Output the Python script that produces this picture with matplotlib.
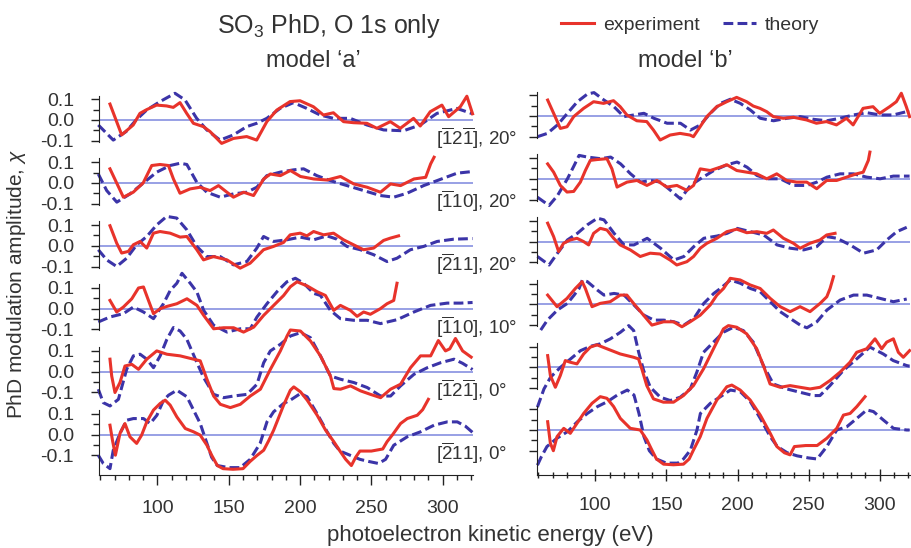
import matplotlib

matplotlib.use("Agg")
import matplotlib.pyplot as plt
from matplotlib.ticker import FixedLocator, FixedFormatter, NullFormatter

plt.rcParams["font.family"] = ["Liberation Sans", "DejaVu Sans"]
plt.rcParams["mathtext.fontset"] = "custom"
plt.rcParams["mathtext.rm"] = "Liberation Sans"
plt.rcParams["mathtext.it"] = "Liberation Sans:italic"
plt.rcParams["mathtext.bf"] = "Liberation Sans:bold"
plt.rcParams["axes.unicode_minus"] = False

# ---- model 'a' -------------------------------------------------------------
# [-1 2 -1], 20 deg
A1_EXP_E = [66.7, 74.9, 83, 87.7, 92.4, 99.4, 106.4, 111.1, 115.8, 120.5, 125.2, 132.2, 136.9, 145, 153.3,
            162.6, 169.6, 176.7, 183.7, 193, 200, 209.4, 216.4, 223.4, 230.5, 237.5, 246.9, 253.9, 263.3,
            270.3, 279.6, 284.3, 291.3, 299.5, 304.2, 312.4, 317, 321]
A1_EXP_CHI = [0.077, -0.072, -0.024, 0.032, 0.05, 0.072, 0.068, 0.061, 0.084, 0.032, -0.016, -0.032, -0.056,
              -0.113, -0.089, -0.08, -0.097, -0.008, 0.048, 0.089, 0.093, 0.064, 0.024, 0.035, -0.008, -0.013,
              -0.016, -0.04, -0.008, -0.04, 0.008, -0.029, 0.04, 0.072, 0.016, 0.064, 0.115, 0.03]
A1_TH_E = [58.5, 69, 78, 85, 92.4, 101.8, 112.3, 119.3, 127.5, 134.6, 143.9, 153.3, 162.6, 169.6, 176.7, 186,
           195.4, 204.7, 214.1, 223.4, 235.2, 246.9, 258.6, 272.6, 284.3, 296, 310, 321]
A1_TH_CHI = [-0.024, -0.097, -0.056, 0, 0.048, 0.089, 0.129, 0.097, 0.008, -0.048, -0.097, -0.072, -0.032,
             -0.016, 0.008, 0.056, 0.084, 0.056, 0.024, 0.008, 0.008, -0.024, -0.048, -0.052, -0.024, 0.032,
             0.056, 0.03]

# [-1 1 0], 20 deg
A2_EXP_E = [66.7, 76.1, 83, 90, 96, 101.8, 107.7, 111.2, 115.8, 122.9, 129.9, 136.9, 142.8, 148.7, 153.3,
            160.4, 167.4, 174.5, 179.2, 186.2, 193.2, 200.3, 209.6, 219, 228.4, 237.7, 247.1, 256.4, 263.5,
            270.5, 279.9, 288.1, 291.6, 294]
A2_EXP_CHI = [0.068, -0.069, -0.045, 0, 0.084, 0.089, 0.084, 0.019, -0.05, -0.029, -0.021, -0.037, -0.013,
              -0.045, -0.069, -0.045, -0.061, 0.019, 0.043, 0.035, 0.06, 0.031, 0.019, 0.014, 0.031, -0.005,
              -0.021, -0.045, -0.005, -0.013, 0.019, 0.027, 0.092, 0.124]
A2_TH_E = [58.5, 64.4, 71.5, 80.8, 90.2, 99.5, 108.9, 115.9, 120.6, 127.6, 134.6, 144, 153.3, 162.7, 169.7,
           176.7, 186.1, 195.4, 202.5, 211.8, 221.2, 232.9, 244.6, 256.3, 265.7, 275, 286.7, 296.1, 310.1, 321]
A2_TH_CHI = [0.043, -0.037, -0.093, -0.053, 0, 0.052, 0.084, 0.095, 0.089, 0.003, -0.045, -0.069, -0.053,
             -0.045, -0.021, 0.035, 0.052, 0.063, 0.068, 0.035, 0.011, -0.013, -0.037, -0.061, -0.069, -0.05,
             -0.013, 0.011, 0.047, 0.055]

# [-2 1 1], 20 deg
A3_EXP_E = [66.7, 71.4, 74.9, 79.6, 83.1, 87.8, 92.5, 97.2, 101.8, 108.9, 115.9, 120.6, 127.6, 132.3, 139.3,
            148.7, 158, 165, 169.7, 174.4, 181.4, 188.4, 193.1, 200.1, 204.8, 209.5, 216.5, 223.5, 230.5,
            237.5, 244.5, 251.6, 258.6, 263.3, 269.1]
A3_EXP_CHI = [0.097, 0.013, -0.035, -0.027, 0.005, 0.021, -0.011, 0.061, 0.069, 0.061, 0.042, 0.045, -0.019,
              -0.068, -0.052, -0.068, -0.108, -0.084, -0.052, -0.019, -0.003, 0.016, 0.053, 0.061, 0.048,
              0.069, 0.053, 0.061, 0.029, 0.005, -0.019, -0.011, 0.026, 0.037, 0.048]
A3_TH_E = [58.5, 64.4, 71.4, 78.4, 85.5, 92.5, 99.5, 106.5, 113.5, 120.6, 127.6, 134.6, 144, 153.3, 162.7,
           169.7, 174.4, 181.4, 190.8, 200.1, 209.5, 218.9, 225.9, 232.9, 242.3, 251.6, 261, 268, 277.4, 286.7,
           296.1, 307.8, 321]
A3_TH_CHI = [-0.019, -0.068, -0.1, -0.06, 0.005, 0.045, 0.101, 0.142, 0.134, 0.077, -0.003, -0.052, -0.052,
             -0.092, -0.076, -0.011, 0.045, 0.021, 0.029, 0.042, 0.029, 0.048, 0.032, -0.003, -0.019, -0.043,
             -0.076, -0.06, -0.019, -0.003, 0.021, 0.032, 0.035]

# [-1 1 0], 10 deg
A4_EXP_E = [66.7, 71.4, 76.1, 82, 86.7, 90.2, 93.7, 97.2, 101.9, 106.6, 113.6, 120.7, 127.7, 132.4, 139.4,
            146.4, 153.4, 160.4, 167.5, 174.5, 181.5, 188.5, 193.2, 197.9, 205, 212, 217.8, 223.6, 228.3,
            235.3, 240, 244.6, 249.3, 256.3, 261, 265.7, 268]
A4_EXP_CHI = [0.04, -0.016, 0.008, 0.048, 0.1, 0.105, 0.04, -0.024, 0, 0.011, 0.024, 0.048, 0.016, -0.032,
              -0.097, -0.092, -0.092, -0.113, -0.089, -0.032, 0.016, 0.064, 0.106, 0.13, 0.11, 0.082, 0.064,
              -0.008, 0.016, -0.008, -0.037, -0.016, -0.027, 0, 0.024, 0.04, 0.123]
A4_TH_E = [58.5, 66.7, 76.1, 83.1, 90.2, 97.2, 104.2, 109, 113.6, 117.2, 123, 127.7, 132.4, 139.4, 148.8,
           158.1, 165.1, 169.8, 176.8, 183.8, 190.8, 196.7, 202.5, 209.6, 214.3, 221.3, 228.3, 237.7, 247.1,
           256.4, 268.1, 279.8, 291.5, 303.2, 312.6, 321]
A4_TH_CHI = [-0.064, -0.04, -0.024, 0.008, -0.016, -0.048, 0.024, 0.089, 0.123, 0.171, 0.123, 0.08, -0.008,
             -0.08, -0.113, -0.097, -0.097, -0.04, 0.024, 0.082, 0.13, 0.147, 0.123, 0.074, 0.064, -0.008,
             -0.048, -0.056, -0.056, -0.072, -0.053, -0.016, 0.016, 0.027, 0.027, 0.03]

# [-1 2 -1], 0 deg
A5_EXP_E = [66.7, 67.9, 70.2, 73.7, 77.2, 82, 86.7, 92.5, 99.5, 106.6, 115.9, 125.3, 130, 134.7, 139.4, 144.1,
            151.1, 158.1, 165.1, 172.2, 179.2, 186.2, 190.9, 193.2, 200.3, 207.3, 214.3, 221.3, 223.7, 228.4,
            235.4, 242.4, 249.4, 256.5, 263.5, 270.5, 277.5, 284.5, 291.6, 297, 302, 305, 309, 314, 320]
A5_EXP_CHI = [0.06, -0.021, -0.101, -0.053, 0.027, 0.035, 0.011, 0.06, 0.1, 0.084, 0.076, 0.06, 0.052, -0.037,
              -0.118, -0.158, -0.174, -0.158, -0.118, -0.085, 0.011, 0.1, 0.172, 0.201, 0.196, 0.148, 0.076,
              -0.021, -0.082, -0.085, -0.069, -0.093, -0.11, -0.126, -0.085, -0.061, 0.019, 0.076, 0.076, 0.15,
              0.1, 0.11, 0.16, 0.1, 0.07]
A5_TH_E = [58.5, 62, 66.7, 72.6, 78.4, 83.1, 87.8, 92.5, 97.2, 101.9, 106.6, 111.2, 115.9, 120.6, 127.7, 132.4,
           139.4, 146.4, 153.4, 162.8, 169.8, 174.5, 179.2, 186.2, 193.3, 200.3, 207.3, 214.3, 221.3, 228.4,
           237.8, 247.1, 256.5, 263.5, 270.5, 279.9, 289.3, 298.6, 308, 314, 321]
A5_TH_CHI = [-0.085, -0.15, -0.166, -0.134, 0.011, 0.076, 0.084, 0.06, 0.019, 0.076, 0.156, 0.213, 0.196,
             0.156, 0.043, -0.029, -0.11, -0.126, -0.118, -0.11, -0.061, 0.043, 0.1, 0.132, 0.172, 0.188, 0.164,
             0.076, -0.021, -0.037, -0.053, -0.077, -0.118, -0.118, -0.069, -0.013, 0.019, 0.043, 0.06, 0.04,
             0.01]

# [-2 1 1], 0 deg
A6_EXP_E = [66.7, 68.5, 70.5, 73.7, 77.2, 80.7, 85.4, 88.9, 92.5, 97.2, 101.9, 105.4, 108.9, 113.6, 119.5,
            125.3, 130, 134.7, 138, 142, 146, 153, 160, 165, 170, 174.5, 178, 181.5, 188.5, 193.2, 195.6, 200.3,
            205, 212, 217.9, 223.7, 228, 232, 236, 239, 242, 250, 258, 261, 265, 270.5, 275.2, 282.2, 286, 290]
A6_EXP_CHI = [0.045, -0.03, -0.1, 0.005, 0.053, -0.011, -0.043, -0.003, 0.061, 0.118, 0.15, 0.166, 0.142,
              0.085, 0.029, 0.013, -0.003, -0.052, -0.1, -0.15, -0.165, -0.168, -0.165, -0.13, -0.1, -0.076,
              -0.03, 0.021, 0.142, 0.214, 0.23, 0.206, 0.166, 0.093, 0.021, -0.035, -0.08, -0.12, -0.15, -0.11,
              -0.08, -0.08, -0.07, -0.035, 0.0, 0.053, 0.077, 0.093, 0.12, 0.17]
A6_TH_E = [58.5, 62, 66.7, 69, 73.7, 78.4, 83.1, 90.2, 94.9, 99.6, 104.3, 107.8, 113.6, 120.7, 125.3, 130,
           134.7, 138, 142, 150, 158, 165, 172, 176.8, 181.5, 188.5, 193.2, 200.3, 205, 212, 219, 223.7, 228,
           235, 242, 248, 255, 260, 265.7, 275.2, 284.5, 294, 303.3, 310.3, 316, 321]
A6_TH_CHI = [-0.1, -0.14, -0.165, -0.076, 0.005, 0.069, 0.077, 0.077, 0.053, 0.093, 0.166, 0.19, 0.214, 0.182,
             0.118, 0.053, -0.043, -0.11, -0.15, -0.16, -0.16, -0.12, -0.043, 0.061, 0.11, 0.15, 0.166, 0.198,
             0.182, 0.1, 0.013, -0.043, -0.08, -0.1, -0.12, -0.13, -0.14, -0.12, -0.052, -0.011, 0.013, 0.045,
             0.061, 0.061, 0.04, 0.01]

# ---- model 'b' -------------------------------------------------------------
B1_EXP_E = [66.5, 70.7, 75.4, 80.1, 84.8, 91.8, 98.8, 105.8, 112.8, 117.5, 122.2, 129.2, 136.2, 140.9, 145.6,
            152.6, 159.6, 166.6, 169, 173.7, 178.4, 185.4, 192.4, 199.4, 206.4, 211.1, 215.8, 220.5, 225.2,
            232.2, 239.2, 248.5, 255.5, 262.5, 269.6, 276.6, 281.3, 288.3, 295.3, 300, 307, 311.7, 315.2, 318.7,
            321]
B1_EXP_CHI = [0.077, 0.013, -0.06, -0.052, -0.003, 0.037, 0.069, 0.061, 0.074, 0.045, 0.005, -0.023, -0.027,
              -0.068, -0.116, -0.092, -0.084, -0.092, -0.1, -0.052, -0.003, 0.045, 0.069, 0.09, 0.069, 0.048,
              0.037, 0.021, -0.003, -0.011, -0.006, -0.019, -0.035, -0.027, -0.043, -0.011, -0.043, 0.037,
              0.045, 0.013, 0.045, 0.069, 0.11, 0.045, -0.003]
B1_TH_E = [59.3, 66.3, 73.4, 80.4, 87.4, 94.4, 99.1, 106.1, 113.1, 120.1, 127.1, 134.2, 141.2, 150.5, 159.9,
           166.9, 173.9, 180.9, 188, 195, 202, 209, 216, 225.4, 234.7, 244.1, 253.4, 262.8, 272.1, 281.5, 290.8,
           300.2, 309.5, 318.9, 321]
B1_TH_CHI = [-0.1, -0.084, -0.043, 0.013, 0.069, 0.106, 0.113, 0.077, 0.045, -0.003, 0.005, 0.013, -0.011,
             -0.035, -0.035, -0.068, -0.043, 0.013, 0.061, 0.081, 0.061, 0.029, -0.011, -0.023, -0.011, -0.003,
             -0.016, -0.023, -0.011, 0.005, 0.016, 0.005, 0.005, 0.021, 0.02]

B2_EXP_E = [66.5, 70.7, 75.4, 80.1, 84.8, 89.5, 93, 96.5, 101.2, 108.2, 111.7, 115.3, 122.3, 129.3, 136.3,
            143.3, 150.3, 157.4, 164.4, 169.1, 173.8, 180.8, 187.8, 192.5, 199.5, 206.5, 213.5, 220.6, 227.6,
            234.6, 241.6, 248.7, 255.7, 262.7, 269.7, 276.7, 283.8, 288.4, 292, 293.1]
B2_EXP_CHI = [0.072, 0.032, -0.032, -0.064, -0.061, -0.016, 0.04, 0.089, 0.093, 0.097, 0.048, -0.04, -0.016,
              -0.008, -0.032, -0.008, -0.04, -0.032, -0.056, -0.032, 0.048, 0.04, 0.056, 0.068, 0.04, 0.032,
              0.024, 0, 0.024, -0.008, -0.016, -0.016, -0.048, -0.008, -0.008, 0.008, 0.024, 0.032, 0.089, 0.129]
B2_TH_E = [59.3, 67.5, 73.4, 80.4, 85.1, 88.6, 94.4, 103.8, 110.8, 117.8, 124.8, 131.8, 138.9, 145.9, 152.9,
           159.9, 166.9, 173.9, 183.3, 192.7, 199.7, 206.7, 213.7, 220.8, 230.1, 239.5, 248.8, 255.8, 262.9,
           272.2, 281.6, 290.9, 300.3, 309.6, 321]
B2_TH_CHI = [-0.089, -0.129, -0.081, 0, 0.064, 0.113, 0.105, 0.097, 0.105, 0.072, 0.024, -0.016, -0.008,
             -0.016, -0.056, -0.097, -0.032, 0, 0.04, 0.068, 0.081, 0.056, 0.016, 0, 0, -0.032, -0.032, -0.016,
             0.008, 0.024, 0.024, 0.008, 0, 0.013, 0.013]

B3_EXP_E = [66.5, 70.7, 74.2, 77.7, 82.4, 87.1, 91.8, 95.3, 98.8, 103.5, 108.2, 112.9, 117.5, 124.6, 131.6,
            138.6, 145.6, 152.6, 157.3, 164.4, 169.1, 173.8, 178.5, 185.5, 192.5, 199.5, 206.5, 213.6, 220.6,
            225.2, 232.3, 239.3, 244, 251, 258, 262.7, 268.6]
B3_EXP_CHI = [0.089, 0.024, -0.048, -0.008, 0.008, 0.016, 0, -0.016, 0.04, 0.064, 0.056, 0.016, -0.016, -0.04,
              -0.072, -0.056, -0.06, -0.089, -0.113, -0.097, -0.072, -0.032, -0.008, 0.016, 0.048, 0.06, 0.043,
              0.048, 0.04, 0.056, 0.016, -0.008, -0.032, -0.008, 0.008, 0.032, 0.04]
B3_TH_E = [59.3, 67.5, 73.4, 80.4, 87.4, 94.4, 101.5, 106.1, 113.2, 120.2, 127.2, 136.5, 145.9, 155.3, 162.3,
           169.3, 176.3, 185.7, 192.7, 199.7, 209.1, 218.4, 227.8, 237.1, 246.5, 255.8, 262.9, 269.9, 279.2,
           288.6, 297.9, 305, 312, 319]
B3_TH_CHI = [-0.072, -0.113, -0.056, 0.008, 0.04, 0.081, 0.113, 0.105, 0.04, -0.016, -0.016, 0.016, -0.032,
             -0.089, -0.072, -0.024, 0.016, 0.027, 0.04, 0.064, 0.048, 0.032, -0.016, -0.032, -0.04, -0.024,
             0.024, 0.016, -0.016, -0.056, -0.04, 0.008, 0.048, 0.069]

B4_EXP_E = [66.5, 73.1, 80.1, 86, 90.7, 93, 97.7, 103.5, 110.5, 117.5, 122.2, 126.9, 133.9, 139.8, 148, 155,
            160.9, 166.7, 173.8, 180.8, 185.5, 190.2, 194.9, 201.9, 208.9, 215.9, 223, 230, 237, 244, 251, 258.1,
            262.8, 265.1, 267.5]
B4_EXP_CHI = [0.045, -0.011, 0.029, 0.077, 0.11, 0.077, -0.011, 0.005, 0.013, 0.045, 0.045, 0.005, -0.052,
              -0.1, -0.084, -0.084, -0.108, -0.084, -0.052, -0.003, 0.045, 0.077, 0.126, 0.118, 0.094, 0.077,
              0.029, -0.011, -0.035, -0.011, -0.035, 0.005, 0.037, 0.077, 0.134]
B4_TH_E = [61.6, 66.3, 73.4, 80.4, 85.1, 88.6, 90.9, 94.4, 101.5, 106.1, 113.2, 120.2, 127.2, 134.2, 141.2,
           148.2, 155.3, 162.3, 169.3, 176.3, 183.3, 188, 195, 202, 209, 216, 223, 230, 237.1, 244.1, 248.8,
           255.8, 262.9, 272.2, 281.6, 290.9, 300.3, 309.6, 319]
B4_TH_CHI = [-0.124, -0.076, -0.027, 0.005, 0.045, 0.077, 0.118, 0.11, 0.069, 0.045, 0.053, 0.045, -0.003,
             -0.052, -0.076, -0.076, -0.084, -0.1, -0.068, 0.005, 0.053, 0.077, 0.118, 0.102, 0.077, 0.061, 0.013,
             -0.035, -0.068, -0.1, -0.113, -0.084, -0.027, 0.021, 0.045, 0.045, 0.029, 0.013, 0.026]

B5_EXP_E = [66.5, 68.4, 71.9, 75.4, 78.9, 82.4, 87.1, 91.8, 96.5, 101.2, 108.2, 117.5, 126.9, 130.4, 132.7,
            136.2, 140.9, 147.9, 155, 162, 169, 176.1, 183.1, 190.1, 193.6, 199.5, 206.5, 213.5, 218.2, 222.9,
            230, 237, 244, 251, 258.1, 265.1, 272.1, 279.1, 283.8, 290.8, 296.7, 301.4, 304.9, 309.6, 313.1,
            316.6, 321]
B5_EXP_CHI = [0.056, -0.04, -0.097, -0.04, 0.032, 0.024, 0.016, 0.064, 0.097, 0.108, 0.089, 0.064, 0.048, 0.04,
              -0.008, -0.089, -0.153, -0.169, -0.169, -0.137, -0.089, -0.008, 0.089, 0.185, 0.201, 0.193, 0.161,
              0.089, 0.008, -0.081, -0.097, -0.089, -0.097, -0.105, -0.097, -0.064, -0.024, 0.024, 0.072, 0.089,
              0.137, 0.089, 0.121, 0.137, 0.072, 0.048, 0.08]
B5_TH_E = [59.3, 63.9, 68.6, 75.6, 82.6, 89.6, 96.6, 103.6, 110.6, 117.7, 123.5, 127, 130.5, 134, 138.7, 145.7,
           152.7, 159.7, 166.8, 171.4, 176.1, 183.1, 190.1, 197.1, 204.1, 211.1, 218.2, 225.2, 234.6, 243.9,
           253.3, 258, 265, 274.4, 283.8, 293.1, 302.5, 309.5, 318.9, 321]
B5_TH_CHI = [-0.193, -0.105, -0.048, 0, 0.04, 0.08, 0.101, 0.113, 0.137, 0.169, 0.201, 0.177, 0.072, -0.016,
             -0.097, -0.145, -0.161, -0.145, -0.105, -0.024, 0.072, 0.121, 0.169, 0.193, 0.177, 0.121, 0.008,
             -0.081, -0.105, -0.121, -0.137, -0.137, -0.089, -0.016, 0.04, 0.097, 0.064, 0.032, 0.008, 0.005]

B6_EXP_E = [66.5, 68.4, 70.5, 73.1, 77.8, 82.4, 87.1, 91.8, 97.7, 103.5, 108.2, 112.9, 117.6, 124.6, 131.6,
            136.3, 139.8, 143, 148, 155, 162, 166, 169, 173.8, 178.5, 185.5, 192.5, 196, 201.9, 208.9, 216, 223,
            227.7, 233, 237, 240, 248, 256, 262.8, 269.8, 274.5, 279.2, 283.9, 289.7]
B6_EXP_CHI = [0.04, -0.064, -0.1, -0.032, 0.008, -0.016, 0.032, 0.08, 0.129, 0.161, 0.153, 0.113, 0.056, 0.008,
              0, -0.048, -0.097, -0.14, -0.165, -0.168, -0.165, -0.14, -0.097, -0.032, 0.056, 0.145, 0.209,
              0.217, 0.193, 0.145, 0.072, -0.016, -0.08, -0.11, -0.12, -0.08, -0.075, -0.075, -0.04, 0.008,
              0.072, 0.08, 0.113, 0.161]
B6_TH_E = [59.3, 62, 66, 73, 80.4, 87.4, 94.4, 101.5, 108.5, 115.5, 122.5, 127.2, 130.7, 134.2, 138, 143, 150,
           158, 162, 166.9, 171.5, 173.9, 180.9, 188, 195, 202, 209, 216, 223, 228, 235, 242, 250, 256, 262.8,
           269.8, 276.9, 283.9, 290.9, 295.6, 302.6, 309.7, 319, 321]
B6_TH_CHI = [-0.17, -0.13, -0.08, -0.04, -0.008, 0.04, 0.08, 0.113, 0.137, 0.169, 0.193, 0.169, 0.08, -0.032,
             -0.1, -0.14, -0.16, -0.16, -0.14, -0.097, 0, 0.08, 0.129, 0.161, 0.193, 0.185, 0.137, 0.056, -0.032,
             -0.08, -0.11, -0.125, -0.135, -0.14, -0.08, 0, 0.016, 0.056, 0.097, 0.089, 0.048, 0.008, 0, 0]

DIRECTIONS = [
    r"$[\overline{1}2\overline{1}]$, 20°",
    r"$[\overline{1}10]$, 20°",
    r"$[\overline{2}11]$, 20°",
    r"$[\overline{1}10]$, 10°",
    r"$[\overline{1}2\overline{1}]$, 0°",
    r"$[\overline{2}11]$, 0°",
]
Y_TICKS = [-0.1, 0.0, 0.1]
Y_TICK_LABELS = ["-0.1", "0.0", "0.1"]
X_TICKS = [100, 150, 200, 250, 300]

MODEL_A = [
    (A1_EXP_E, A1_EXP_CHI, A1_TH_E, A1_TH_CHI),
    (A2_EXP_E, A2_EXP_CHI, A2_TH_E, A2_TH_CHI),
    (A3_EXP_E, A3_EXP_CHI, A3_TH_E, A3_TH_CHI),
    (A4_EXP_E, A4_EXP_CHI, A4_TH_E, A4_TH_CHI),
    (A5_EXP_E, A5_EXP_CHI, A5_TH_E, A5_TH_CHI),
    (A6_EXP_E, A6_EXP_CHI, A6_TH_E, A6_TH_CHI),
]
MODEL_B = [
    (B1_EXP_E, B1_EXP_CHI, B1_TH_E, B1_TH_CHI),
    (B2_EXP_E, B2_EXP_CHI, B2_TH_E, B2_TH_CHI),
    (B3_EXP_E, B3_EXP_CHI, B3_TH_E, B3_TH_CHI),
    (B4_EXP_E, B4_EXP_CHI, B4_TH_E, B4_TH_CHI),
    (B5_EXP_E, B5_EXP_CHI, B5_TH_E, B5_TH_CHI),
    (B6_EXP_E, B6_EXP_CHI, B6_TH_E, B6_TH_CHI),
]

EXP_COLOR = "#e8332b"
THEORY_COLOR = "#3b34a8"
ZERO_COLOR = "#7c86de"
TEXT_COLOR = "#333333"
AXIS_COLOR = "#222222"

W, H = 911, 548
SCALE = 207.0  # pixels per unit of chi
E_LIM = (59.0, 321.3)


def px_box(left, right, top, bottom):
    return [left / W, 1 - bottom / H, (right - left) / W, (bottom - top) / H]


def draw_column(fig, panels, left, right, zero0, step, bottom_px, with_labels, tick_dir):
    lines = None
    for i, (exp_e, exp_chi, th_e, th_chi) in enumerate(panels):
        zero = zero0 + step * i
        top = zero - 0.155 * SCALE
        last = i == len(panels) - 1
        bot = bottom_px if last else zero + 0.155 * SCALE
        ax = fig.add_axes(px_box(left, right, top, bot))
        ax.patch.set_visible(False)
        ax.set_xlim(*E_LIM)
        ymin = -(bot - zero) / SCALE
        ax.set_ylim(ymin, (zero - top) / SCALE)

        ax.axhline(0, color=ZERO_COLOR, lw=1.1, zorder=1)
        (th_line,) = ax.plot(th_e, th_chi, color=THEORY_COLOR, lw=2.2, ls=(0, (3.2, 1.4)),
                             clip_on=False, zorder=2)
        (exp_line,) = ax.plot(exp_e, exp_chi, color=EXP_COLOR, lw=2.2, clip_on=False, zorder=3)
        lines = (exp_line, th_line)

        for side in ("top", "right"):
            ax.spines[side].set_visible(False)
        ax.spines["left"].set_color(AXIS_COLOR)
        ax.spines["left"].set_bounds(ymin if last else -0.105, 0.118)

        ax.yaxis.set_major_locator(FixedLocator(Y_TICKS))
        ax.yaxis.set_minor_locator(FixedLocator([-0.05, 0.05]))
        ax.tick_params(axis="y", which="major", direction="out", length=6, width=1, color=AXIS_COLOR,
                       labelsize=14, labelcolor=TEXT_COLOR, pad=12)
        ax.tick_params(axis="y", which="minor", direction="out", length=4, width=1, color=AXIS_COLOR)
        if with_labels:
            ax.yaxis.set_major_formatter(FixedFormatter(Y_TICK_LABELS))
            ax.text(295.5, -0.122, DIRECTIONS[i], fontsize=13.5, color=TEXT_COLOR, ha="left",
                    va="baseline", clip_on=False)
        else:
            ax.tick_params(axis="y", labelleft=False)

        if last:
            ax.spines["bottom"].set_color(AXIS_COLOR)
            ax.xaxis.set_major_locator(FixedLocator(X_TICKS))
            ax.xaxis.set_minor_locator(FixedLocator(range(60, 330, 10)))
            ax.xaxis.set_minor_formatter(NullFormatter())
            ax.tick_params(axis="x", which="major", direction=tick_dir, length=7 if tick_dir == "out" else 9,
                           width=1, color=AXIS_COLOR, labelsize=14, labelcolor=TEXT_COLOR, pad=11)
            ax.tick_params(axis="x", which="minor", direction=tick_dir, length=3.5 if tick_dir == "out" else 5,
                           width=1, color=AXIS_COLOR)
        else:
            ax.spines["bottom"].set_visible(False)
            ax.tick_params(axis="x", which="both", bottom=False, labelbottom=False)
    return lines


fig = plt.figure(figsize=(W / 100, H / 100), dpi=100)

exp_line, th_line = draw_column(fig, MODEL_A, 99, 473, 120.0, 62.9, 475, True, "out")
draw_column(fig, MODEL_B, 537, 910, 116.0, 62.8, 475, False, "inout")

fig.text(329 / W, 1 - 26 / H, r"SO$_3$ PhD, O 1s only", fontsize=18, color=TEXT_COLOR,
         ha="center", va="center")
fig.text(313 / W, 1 - 61 / H, "model ‘a’", fontsize=17, color=TEXT_COLOR, ha="center", va="center")
fig.text(685 / W, 1 - 61 / H, "model ‘b’", fontsize=17, color=TEXT_COLOR, ha="center", va="center")
fig.text(17 / W, 1 - 284 / H, r"PhD modulation amplitude, $\chi$", fontsize=15, color=TEXT_COLOR,
         rotation=90, ha="center", va="center")
fig.text(490 / W, 1 - 536 / H, "photoelectron kinetic energy (eV)", fontsize=16, color=TEXT_COLOR,
         ha="center", va="center")

fig.legend([exp_line, th_line], ["experiment", "theory"], loc="center", bbox_to_anchor=(690 / W, 1 - 25 / H),
           ncol=2, frameon=False, fontsize=14, handlelength=1.7, handletextpad=0.45, columnspacing=1.2,
           labelcolor=TEXT_COLOR, borderpad=0, borderaxespad=0)

fig.savefig("out.png", dpi=100)
plt.close(fig)
